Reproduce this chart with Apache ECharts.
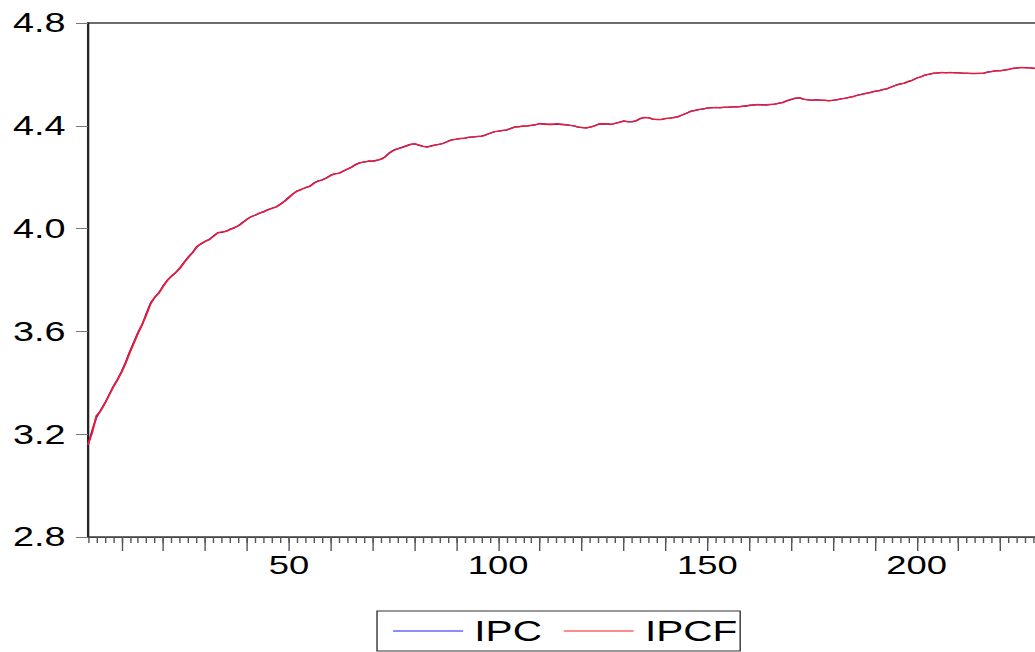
<!DOCTYPE html>
<html>
<head>
<meta charset="utf-8">
<script src="https://cdn.jsdelivr.net/npm/echarts@6/dist/echarts.min.js"></script>
<style>
  html, body { margin: 0; padding: 0; background: #fff; overflow: hidden; width: 1035px; height: 652px; }
  #chart { width: 800px; height: 652px; transform: scaleX(1.4); transform-origin: 0 0; }
</style>
</head>
<body>
<div id="chart"></div>
<script>
const ipc = [
  3.158, 3.215, 3.265, 3.292, 3.320, 3.352, 3.385, 3.412, 3.443, 3.480,
  3.522, 3.560, 3.598, 3.628, 3.672, 3.712, 3.733, 3.752, 3.778, 3.800,
  3.815, 3.830, 3.848, 3.870, 3.890, 3.908, 3.930, 3.940, 3.950, 3.958,
  3.972, 3.983, 3.985, 3.990, 3.998, 4.004, 4.012, 4.025, 4.037, 4.046,
  4.053, 4.060, 4.066, 4.074, 4.079, 4.085, 4.096, 4.108, 4.122, 4.136,
  4.146, 4.153, 4.159, 4.165, 4.178, 4.185, 4.190, 4.198, 4.208, 4.213,
  4.216, 4.224, 4.232, 4.240, 4.250, 4.256, 4.260, 4.262, 4.263, 4.265,
  4.270, 4.280, 4.295, 4.305, 4.310, 4.316, 4.322, 4.328, 4.330, 4.325,
  4.320, 4.318, 4.322, 4.326, 4.328, 4.333, 4.340, 4.345, 4.348, 4.350,
  4.352, 4.355, 4.357, 4.358, 4.360, 4.365, 4.371, 4.376, 4.379, 4.381,
  4.384, 4.390, 4.395, 4.397, 4.399, 4.400, 4.402, 4.405, 4.408, 4.407,
  4.405, 4.406, 4.407, 4.406, 4.404, 4.403, 4.400, 4.396, 4.393, 4.392,
  4.395, 4.400, 4.406, 4.408, 4.407, 4.406, 4.409, 4.414, 4.418, 4.416,
  4.415, 4.420, 4.428, 4.433, 4.431, 4.426, 4.424, 4.425, 4.428, 4.430,
  4.432, 4.436, 4.442, 4.449, 4.456, 4.460, 4.463, 4.466, 4.469, 4.471,
  4.471, 4.471, 4.472, 4.473, 4.474, 4.474, 4.475, 4.477, 4.479, 4.481,
  4.482, 4.482, 4.481, 4.482, 4.484, 4.487, 4.491, 4.497, 4.503, 4.507,
  4.509, 4.504, 4.501, 4.500, 4.501, 4.500, 4.499, 4.498, 4.499, 4.502,
  4.505, 4.508, 4.511, 4.515, 4.519, 4.523, 4.526, 4.530, 4.534, 4.537,
  4.541, 4.545, 4.551, 4.558, 4.562, 4.566, 4.572, 4.578, 4.585, 4.591,
  4.597, 4.601, 4.604, 4.606, 4.607, 4.607, 4.607, 4.607, 4.606, 4.605,
  4.604, 4.604, 4.603, 4.604, 4.605, 4.609, 4.612, 4.614, 4.615, 4.617,
  4.620, 4.623, 4.625, 4.626, 4.626, 4.625, 4.624, 4.623
];
const ipcf = [
  3.160, 3.205, 3.272, 3.290, 3.318, 3.350, 3.382, 3.410, 3.440, 3.476,
  3.518, 3.556, 3.594, 3.630, 3.666, 3.708, 3.735, 3.750, 3.776, 3.799,
  3.817, 3.829, 3.846, 3.868, 3.888, 3.906, 3.928, 3.942, 3.951, 3.957,
  3.970, 3.984, 3.987, 3.989, 3.997, 4.003, 4.011, 4.023, 4.036, 4.047,
  4.052, 4.061, 4.065, 4.073, 4.080, 4.084, 4.095, 4.106, 4.120, 4.135,
  4.147, 4.152, 4.160, 4.164, 4.176, 4.186, 4.189, 4.197, 4.207, 4.214,
  4.215, 4.223, 4.231, 4.239, 4.249, 4.257, 4.259, 4.263, 4.262, 4.266,
  4.269, 4.279, 4.293, 4.304, 4.311, 4.315, 4.321, 4.327, 4.331, 4.326,
  4.321, 4.317, 4.321, 4.325, 4.329, 4.332, 4.339, 4.346, 4.347, 4.351,
  4.351, 4.356, 4.356, 4.359, 4.359, 4.364, 4.370, 4.377, 4.378, 4.382,
  4.383, 4.389, 4.396, 4.396, 4.400, 4.399, 4.403, 4.404, 4.409, 4.406,
  4.406, 4.405, 4.408, 4.405, 4.405, 4.402, 4.401, 4.395, 4.394, 4.391,
  4.396, 4.399, 4.407, 4.407, 4.408, 4.405, 4.410, 4.413, 4.419, 4.415,
  4.416, 4.419, 4.429, 4.432, 4.432, 4.425, 4.425, 4.424, 4.429, 4.429,
  4.433, 4.435, 4.443, 4.448, 4.457, 4.459, 4.464, 4.465, 4.470, 4.470,
  4.472, 4.470, 4.473, 4.472, 4.475, 4.473, 4.476, 4.476, 4.480, 4.480,
  4.483, 4.481, 4.482, 4.483, 4.483, 4.488, 4.490, 4.498, 4.502, 4.508,
  4.510, 4.503, 4.502, 4.499, 4.502, 4.499, 4.500, 4.497, 4.500, 4.501,
  4.506, 4.507, 4.512, 4.514, 4.520, 4.522, 4.527, 4.529, 4.535, 4.536,
  4.542, 4.544, 4.552, 4.557, 4.563, 4.565, 4.573, 4.577, 4.586, 4.590,
  4.598, 4.600, 4.605, 4.605, 4.608, 4.606, 4.608, 4.606, 4.607, 4.604,
  4.605, 4.603, 4.604, 4.604, 4.604, 4.610, 4.611, 4.615, 4.614, 4.618,
  4.619, 4.624, 4.624, 4.627, 4.625, 4.626, 4.623, 4.624
];
const firstObs = 2;
const obs = ipc.map((_, i) => i + firstObs);

// Axis ticks and labels
const xLabels = [50, 100, 150, 200];
const majorTicks = [10, 20, 30, 40, 50, 60, 70, 80, 90, 100, 110, 120, 130, 140, 150, 160, 170, 180, 190, 200, 210, 220, 230, 240];
const minorTicks = [];
for (let v = 2; v <= 246; v += 2) minorTicks.push(v);
const yTicks = [2.8, 3.2, 3.6, 4.0, 4.4, 4.8];
const seriesNames = ['IPC', 'IPCF'];

const chart = echarts.init(document.getElementById('chart'), null, { renderer: 'svg' });
const FONT = 'Liberation Sans, Arial, sans-serif';
const xMin = 2, xMax = 246;

chart.setOption({
  animation: false,
  backgroundColor: '#ffffff',
  grid: {
    left: 62.86, right: 7.74, top: 23, bottom: 115,
    show: true, borderColor: '#3c3c3c', borderWidth: 1.5, backgroundColor: 'transparent'
  },
  legend: {
    data: seriesNames,
    left: 269.3,
    top: 611,
    orient: 'horizontal',
    borderColor: '#333',
    borderWidth: 1,
    padding: [3, 2, 3, 11],
    itemGap: 15,
    itemWidth: 50,
    itemHeight: 14,
    itemStyle: { opacity: 0 },
    lineStyle: { width: 1 },
    textStyle: { fontSize: 29, fontFamily: FONT, color: '#000', lineHeight: 34, padding: [0, 0, 0, 3] }
  },
  xAxis: [
    {
      type: 'value', min: xMin, max: xMax, position: 'bottom',
      axisLine: { show: true, onZero: false, lineStyle: { color: '#444', width: 1.2 } },
      axisTick: { show: true, customValues: majorTicks, length: 14, inside: false, lineStyle: { color: '#555', width: 1 } },
      axisLabel: { show: true, customValues: xLabels, fontSize: 26, fontFamily: FONT, color: '#000', margin: 15 },
      splitLine: { show: false }
    },
    {
      type: 'value', min: xMin, max: xMax, position: 'bottom',
      axisLine: { show: false, onZero: false },
      axisTick: { show: true, customValues: minorTicks, length: 6, inside: false, lineStyle: { color: '#555', width: 1 } },
      axisLabel: { show: false },
      splitLine: { show: false }
    }
  ],
  yAxis: {
    type: 'value', min: 2.8, max: 4.8,
    axisLine: { show: true, onZero: false, lineStyle: { color: '#222', width: 1.5 } },
    axisTick: { show: true, customValues: yTicks, length: 8.6, lineStyle: { color: '#777', width: 1 } },
    axisLabel: {
      customValues: yTicks,
      fontSize: 27, fontFamily: FONT, color: '#000', margin: 16,
      formatter: v => Number(v).toFixed(1)
    },
    splitLine: { show: false }
  },
  series: [
    {
      name: seriesNames[0], type: 'line', xAxisIndex: 0, symbol: 'none',
      data: obs.map((n, i) => [n, ipc[i]]),
      lineStyle: { color: '#1a1aff', width: 1.3 },
      itemStyle: { color: '#1a1aff' }
    },
    {
      name: seriesNames[1], type: 'line', xAxisIndex: 0, symbol: 'none',
      data: obs.map((n, i) => [n, ipcf[i]]),
      lineStyle: { color: '#ff1a1a', width: 1.3 },
      itemStyle: { color: '#ff1a1a' }
    }
  ]
});
</script>
</body>
</html>
